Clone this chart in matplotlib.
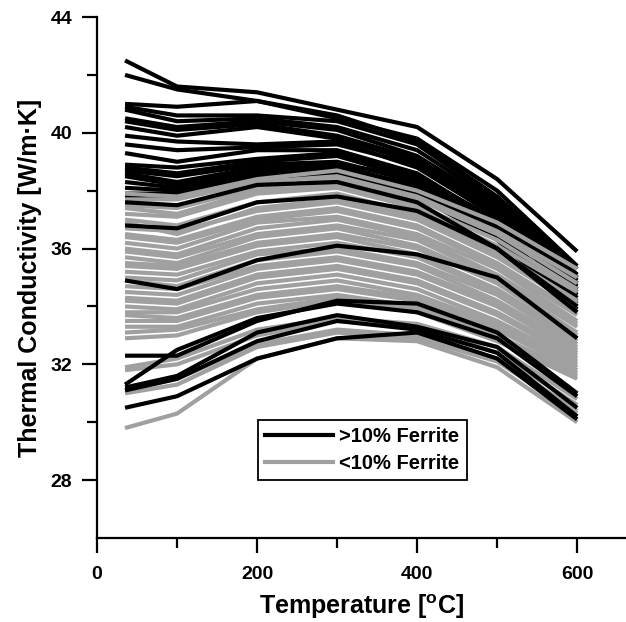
import matplotlib
matplotlib.use('Agg')
from matplotlib import pyplot as plt
from matplotlib.lines import Line2D

plt.rcParams['font.family'] = ['Liberation Sans', 'DejaVu Sans']
plt.rcParams['font.weight'] = 'bold'
plt.rcParams['mathtext.fontset'] = 'custom'
plt.rcParams['mathtext.rm'] = 'Liberation Sans:bold'
plt.rcParams['mathtext.bf'] = 'Liberation Sans:bold'

# temperatures of the measurements
temps = [35, 100, 200, 300, 400, 500, 600]

# >10% ferrite, upper group
ferrite_high = [
    [42.5, 41.6, 41.4, 40.8, 40.2, 38.4, 35.9],
    [42.0, 41.5, 41.1, 40.5, 39.8, 38.0, 35.4],
    [41.0, 40.9, 41.1, 40.6, 39.7, 37.8, 35.3],
    [40.9, 40.6, 40.6, 40.4, 39.6, 37.7, 35.1],
    [40.8, 40.4, 40.5, 40.2, 39.4, 37.6, 35.0],
    [40.5, 40.2, 40.4, 40.1, 39.2, 37.5, 34.9],
    [40.4, 40.1, 40.3, 39.9, 39.1, 37.3, 34.8],
    [40.2, 39.9, 40.2, 39.8, 39.0, 37.4, 35.0],
    [39.9, 39.7, 39.6, 39.7, 38.8, 37.1, 34.6],
    [39.6, 39.4, 39.5, 39.6, 38.9, 37.2, 34.7],
    [39.3, 39.0, 39.4, 39.4, 38.6, 36.9, 34.4],
    [38.9, 38.8, 39.1, 39.3, 38.5, 36.8, 34.5],
    [38.8, 38.6, 39.0, 39.2, 38.4, 36.9, 34.3],
    [38.7, 38.5, 38.9, 39.0, 38.3, 36.7, 34.6],
    [38.6, 38.3, 38.8, 38.9, 38.1, 36.6, 34.2],
    [38.5, 38.2, 38.7, 38.8, 38.2, 36.9, 34.8],
    [38.3, 38.1, 38.6, 38.7, 38.0, 36.5, 34.1],
    [38.1, 38.0, 38.6, 38.9, 38.5, 37.0, 35.1],
    [37.9, 37.9, 38.5, 38.6, 37.9, 36.4, 34.0],
    [37.8, 37.8, 38.4, 38.5, 37.8, 36.3, 33.9],
]

# <10% ferrite
ferrite_low = [
    [37.9, 37.8, 38.4, 38.7, 38.0, 36.9, 35.3],
    [37.7, 37.7, 38.3, 38.5, 37.8, 36.6, 35.0],
    [37.5, 37.4, 38.1, 38.4, 37.7, 36.5, 34.8],
    [37.4, 37.2, 38.0, 38.2, 37.5, 36.3, 34.6],
    [37.2, 37.1, 37.9, 38.1, 37.4, 36.1, 34.5],
    [37.0, 36.8, 37.6, 37.9, 37.2, 35.9, 34.2],
    [36.9, 36.5, 37.4, 37.7, 37.1, 35.8, 34.1],
    [36.7, 36.6, 37.3, 37.6, 37.0, 35.7, 34.0],
    [36.5, 36.3, 37.1, 37.4, 36.8, 35.5, 33.8],
    [36.4, 36.2, 37.0, 37.3, 36.7, 35.4, 33.7],
    [36.2, 36.0, 36.9, 37.1, 36.5, 35.3, 33.5],
    [36.0, 35.8, 36.7, 37.0, 36.4, 35.1, 33.4],
    [35.9, 35.7, 36.5, 36.8, 36.3, 35.0, 33.3],
    [35.7, 35.5, 36.4, 36.7, 36.1, 34.9, 33.1],
    [35.5, 35.4, 36.2, 36.5, 36.0, 34.8, 33.0],
    [35.4, 35.3, 36.1, 36.4, 35.8, 34.6, 32.9],
    [35.2, 35.1, 35.9, 36.2, 35.7, 34.5, 32.8],
    [35.0, 34.9, 35.8, 36.0, 35.5, 34.4, 32.7],
    [34.9, 34.7, 35.6, 35.9, 35.4, 34.2, 32.6],
    [34.7, 34.6, 35.4, 35.7, 35.2, 34.1, 32.5],
    [34.5, 34.4, 35.3, 35.6, 35.1, 34.0, 32.4],
    [34.3, 34.2, 35.1, 35.4, 34.9, 33.8, 32.3],
    [34.2, 34.1, 35.0, 35.3, 34.8, 33.7, 32.2],
    [34.0, 33.9, 34.8, 35.1, 34.6, 33.5, 32.1],
    [33.8, 33.8, 34.6, 34.9, 34.4, 33.4, 32.0],
    [33.7, 33.6, 34.4, 34.7, 34.3, 33.3, 31.9],
    [33.5, 33.5, 34.3, 34.6, 34.2, 33.2, 31.8],
    [33.3, 33.3, 34.1, 34.4, 34.0, 33.0, 31.7],
    [33.1, 33.2, 33.9, 34.3, 33.9, 32.9, 31.6],
    [32.9, 33.0, 33.8, 34.2, 33.8, 32.8, 31.5],
    [31.9, 32.2, 33.2, 33.6, 33.4, 32.6, 30.8],
    [31.8, 32.0, 33.0, 33.5, 33.3, 32.4, 30.6],
    [31.1, 31.5, 32.7, 33.2, 33.0, 32.2, 30.4],
    [31.0, 31.3, 32.6, 33.1, 32.9, 32.1, 30.3],
    [29.8, 30.3, 32.2, 32.9, 32.8, 31.9, 30.0],
]

# >10% ferrite, lines running through / below the grey band
ferrite_high_2 = [
    [37.6, 37.5, 38.2, 38.3, 37.6, 36.0, 33.8],
    [36.8, 36.7, 37.6, 37.8, 37.3, 36.0, 34.0],
    [34.9, 34.6, 35.6, 36.1, 35.8, 35.0, 32.9],
    [32.3, 32.3, 33.5, 34.2, 34.1, 33.1, 31.0],
    [31.3, 32.5, 33.6, 34.1, 33.8, 32.9, 30.9],
    [31.2, 31.6, 33.1, 33.7, 33.3, 32.6, 30.5],
    [31.1, 31.5, 32.8, 33.5, 33.2, 32.4, 30.2],
    [30.5, 30.9, 32.2, 32.9, 33.1, 32.2, 30.1],
]

black = '#000000'
grey = '#a0a0a0'
lw = 3.0

fig = plt.figure(figsize=(6.26, 6.22), dpi=100)
ax = fig.add_axes([0.155, 0.135, 0.845, 0.8376])

for y in ferrite_high:
    ax.plot(temps, y, color=black, lw=lw, solid_capstyle='butt')
for y in ferrite_low:
    ax.plot(temps, y, color=grey, lw=lw, solid_capstyle='butt')
for y in ferrite_high_2:
    ax.plot(temps, y, color=black, lw=lw, solid_capstyle='butt')

ax.set_xlim(0, 661)
ax.set_ylim(26, 44)
ax.set_xticks([0, 200, 400, 600])
ax.set_xticks([100, 300, 500], minor=True)
ax.set_yticks([28, 32, 36, 40, 44])
ax.set_yticks([30, 34, 38, 42], minor=True)

ax.spines['top'].set_visible(False)
ax.spines['right'].set_visible(False)
ax.spines['left'].set_linewidth(1.6)
ax.spines['bottom'].set_linewidth(1.6)
ax.tick_params(which='major', direction='out', length=11, width=1.6,
               labelsize=14, pad=7)
ax.tick_params(axis='x', which='major', pad=9)
ax.tick_params(which='minor', direction='out', length=7, width=1.6)
for lab in ax.get_xticklabels() + ax.get_yticklabels():
    lab.set_fontweight('bold')

ax.set_xlabel(r'Temperature [$^{\mathbf{o}}$C]', fontsize=18, fontweight='bold', labelpad=7)
ax.set_ylabel('Thermal Conductivity [W/m\u00b7K]', fontsize=18, fontweight='bold', labelpad=6)

handles = [Line2D([], [], color=black, lw=lw), Line2D([], [], color=grey, lw=lw)]
leg = ax.legend(handles, ['>10% Ferrite', '<10% Ferrite'], loc='upper left',
                bbox_to_anchor=(0.304, 0.2265), borderaxespad=0, fancybox=False,
                framealpha=1, edgecolor='black', handlelength=3.4, handletextpad=0.3,
                borderpad=0.35, labelspacing=0.4, prop={'size': 14.5, 'weight': 'bold'})
leg.get_frame().set_linewidth(1.3)

fig.savefig('out.png', dpi=100)
